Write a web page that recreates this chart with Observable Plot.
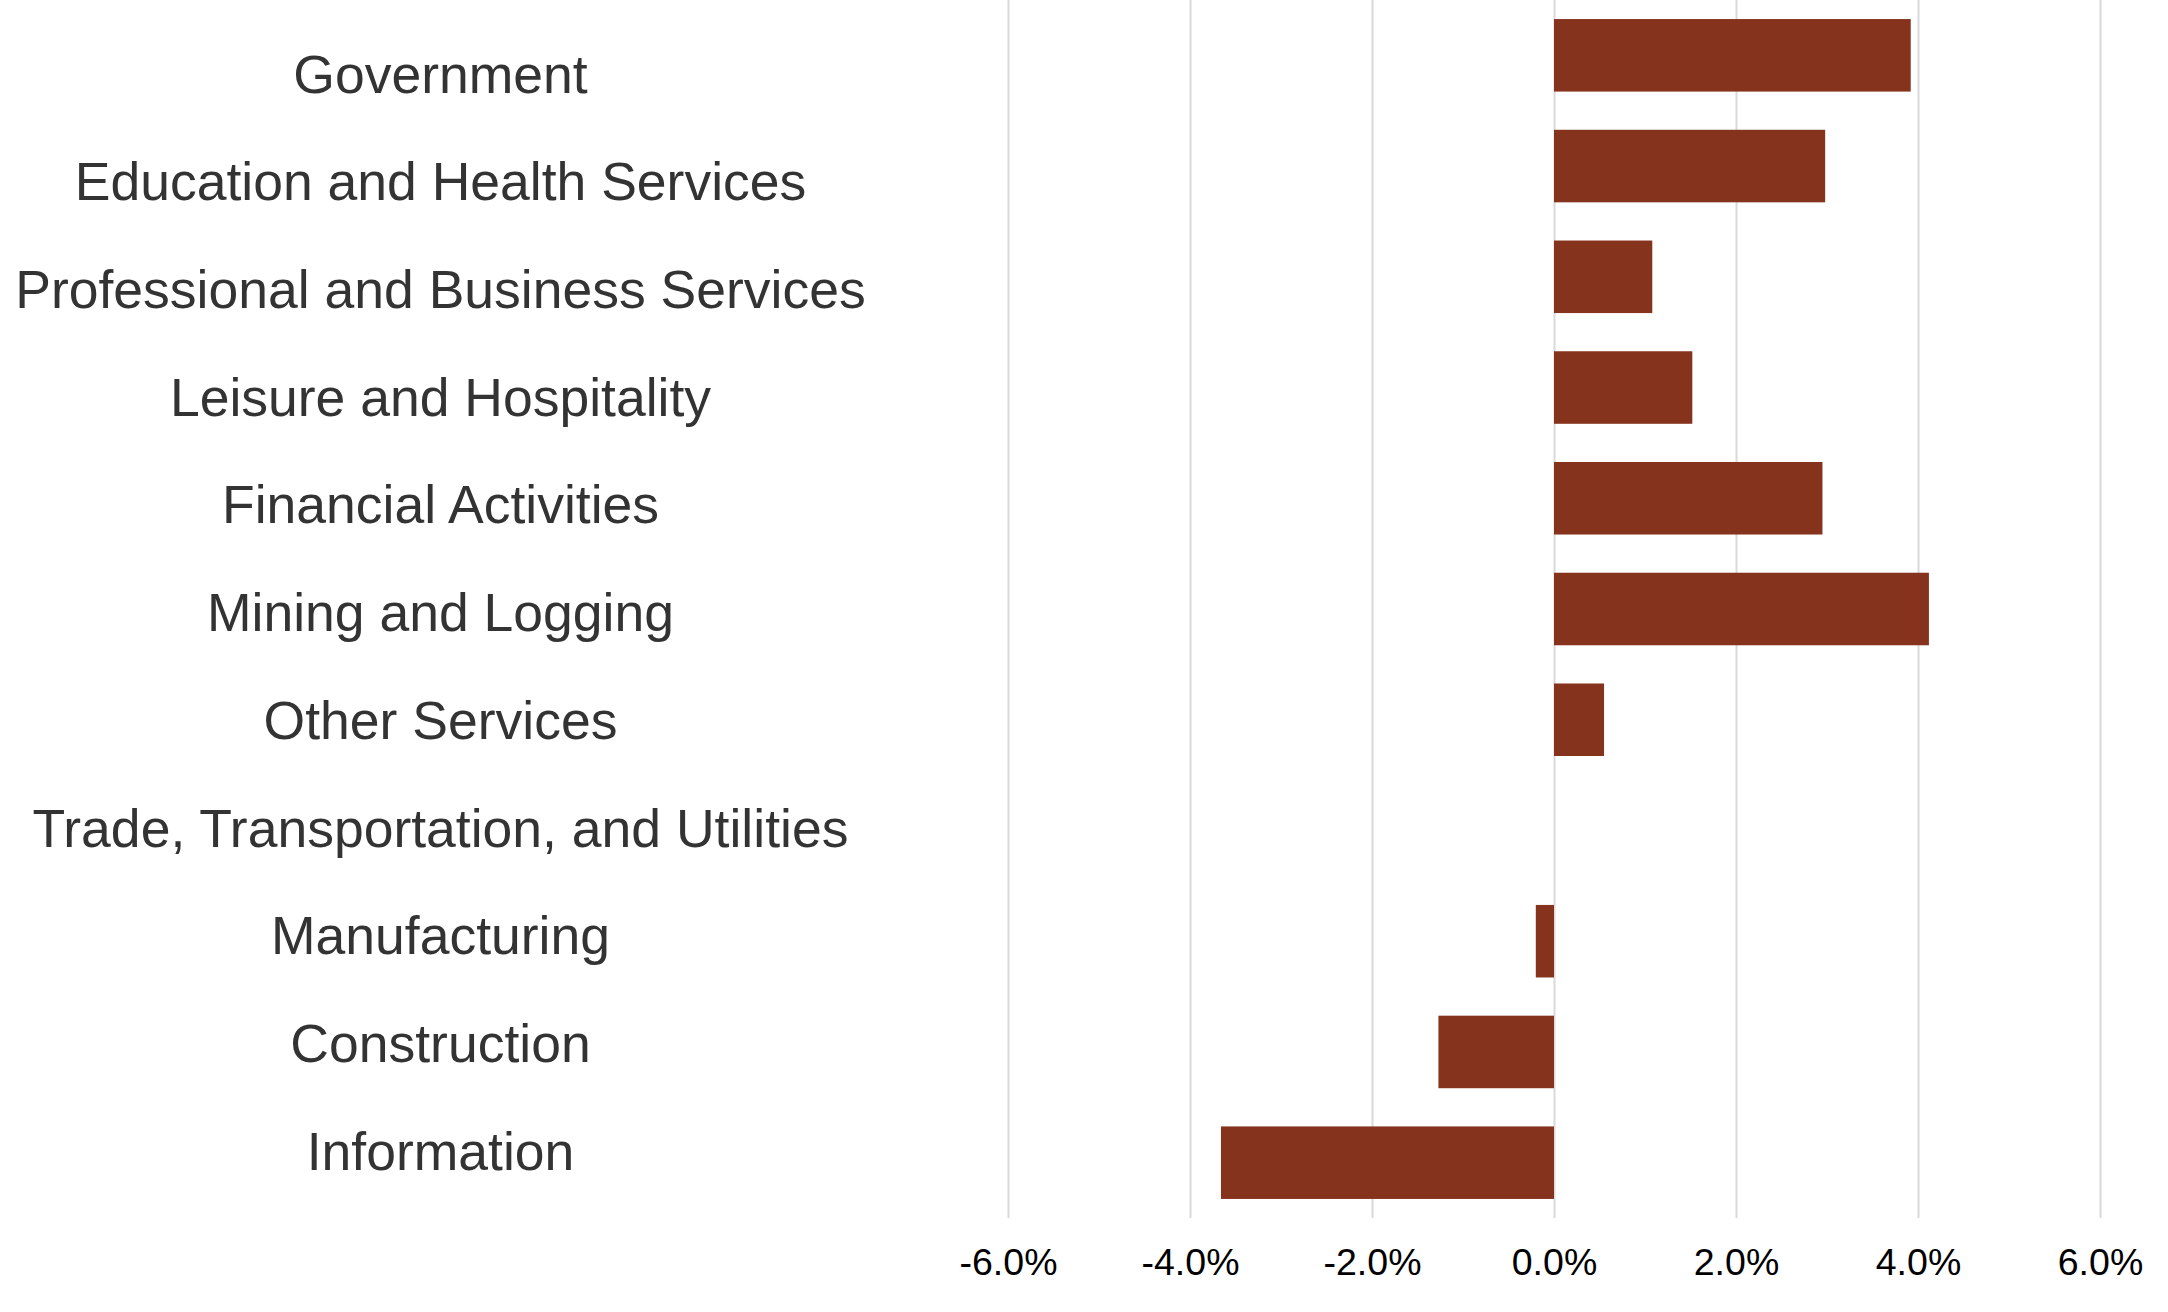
<!DOCTYPE html>
<html>
<head>
<meta charset="utf-8">
<script src="https://cdn.jsdelivr.net/npm/d3@7"></script>
<script src="https://cdn.jsdelivr.net/npm/@observablehq/plot@0.6"></script>
<style>
  html, body { margin: 0; padding: 0; background: #fff; }
  #wrap { position: relative; width: 2168px; height: 1312px; }
  #wrap svg { position: absolute; left: 0; top: 0; }
</style>
</head>
<body>
<div id="wrap"></div>
<script>
const categories = [
  "Government",
  "Education and Health Services",
  "Professional and Business Services",
  "Leisure and Hospitality",
  "Financial Activities",
  "Mining and Logging",
  "Other Services",
  "Trade, Transportation, and Utilities",
  "Manufacturing",
  "Construction",
  "Information"
];
const values = [3.92, 2.98, 1.08, 1.52, 2.95, 4.12, 0.55, 0.0, -0.20, -1.27, -3.66];
const xTicks = [-6, -4, -2, 0, 2, 4, 6];

const data = categories.map((c, i) => ({category: c, value: values[i]}));
const font = "'Liberation Sans', Arial, sans-serif";

const chart = Plot.plot({
  width: 2168,
  height: 1312,
  marginLeft: 1008,
  marginRight: 68,
  marginTop: 0,
  marginBottom: 94,
  style: {fontFamily: font, background: "transparent"},
  x: {domain: [-6, 6], ticks: xTicks},
  y: {domain: categories, paddingInner: 0.345, paddingOuter: 0.172, round: false, axis: null},
  marks: [
    Plot.gridX(xTicks, {stroke: "#d9d9d9", strokeOpacity: 1, strokeWidth: 2}),
    Plot.barX(data, {x: "value", y: "category", fill: "#86331e"}),
    Plot.axisX(xTicks, {
      tickSize: 0,
      tickPadding: 30,
      tickFormat: d => d.toFixed(1) + "%",
      fontSize: 37.5,
      fill: "#000",
      label: null
    })
  ]
});

const labels = Plot.plot({
  width: 880,
  height: 1312,
  marginLeft: 0,
  marginRight: 0,
  marginTop: 75,
  marginBottom: 160,
  style: {fontFamily: font, background: "transparent"},
  y: {type: "point", domain: categories, padding: 0, round: false, axis: null},
  marks: [
    Plot.text(categories, {y: d => d, text: d => d, frameAnchor: "middle", textAnchor: "middle", fontSize: 53.5, fill: "#333333"})
  ]
});

const wrap = document.getElementById("wrap");
wrap.appendChild(chart);
wrap.appendChild(labels);
</script>
</body>
</html>
